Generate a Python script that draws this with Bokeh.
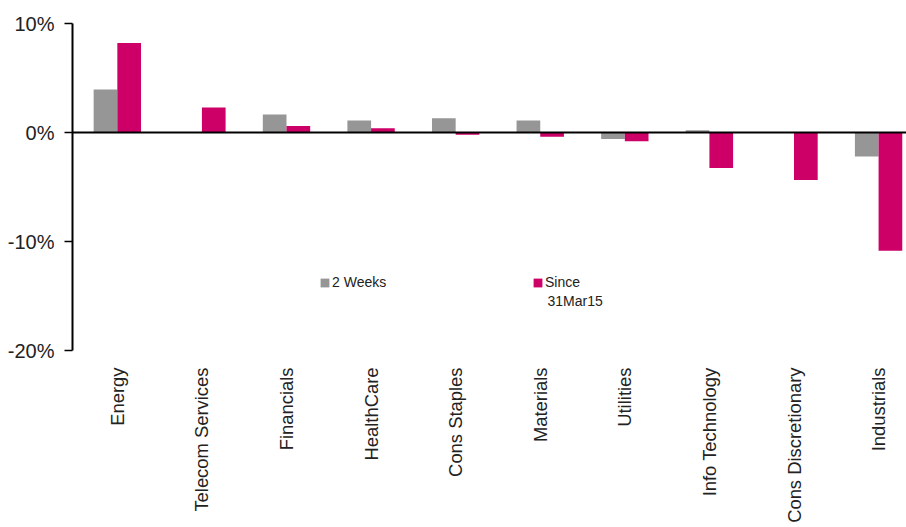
import numpy as np
from bokeh.plotting import figure
from bokeh.models import (ColumnDataSource, FixedTicker, Span, Legend, LegendItem, Label)
from bokeh.embed import file_html
from bokeh.resources import INLINE

categories = ["Energy", "Telecom Services", "Financials", "HealthCare", "Cons Staples",
              "Materials", "Utilities", "Info Technology", "Cons Discretionary", "Industrials"]
two_weeks = [3.95, 0.0, 1.65, 1.1, 1.3, 1.1, -0.6, 0.2, 0.0, -2.2]
since_31mar15 = [8.2, 2.3, 0.6, 0.4, -0.2, -0.4, -0.8, -3.25, -4.35, -10.85]
y_ticks = [-20, -10, 0, 10]
y_tick_labels = ["-20%", "-10%", "0%", "10%"]
series_names = ["2 Weeks", "Since", "31Mar15"]

GRAY = "#969696"
PINK = "#CC0066"
FONT = "Liberation Sans"

idx = np.arange(len(categories))
src = ColumnDataSource(dict(x1=idx - 0.14, x2=idx + 0.14, a=two_weeks, b=since_31mar15))

p = figure(width=906, height=527, output_backend="svg", toolbar_location=None,
           x_range=(-0.53, 9.33), y_range=(-20, 10),
           min_border_left=72, min_border_right=0, min_border_top=23, min_border_bottom=177)
p.outline_line_color = None
p.xgrid.visible = False
p.ygrid.visible = False
p.background_fill_color = "white"
p.border_fill_color = "white"

r1 = p.vbar(x="x1", top="a", bottom=0, width=0.28, source=src, fill_color=GRAY, line_color=None)
r2 = p.vbar(x="x2", top="b", bottom=0, width=0.28, source=src, fill_color=PINK, line_color=None)

p.add_layout(Span(location=0, dimension="width", line_color="black", line_width=2))

# y axis
p.yaxis.ticker = FixedTicker(ticks=y_ticks)
p.yaxis.major_label_overrides = {t: l for t, l in zip(y_ticks, y_tick_labels)}
p.yaxis.axis_line_color = "black"
p.yaxis.axis_line_width = 2
p.yaxis.major_tick_in = 0
p.yaxis.major_tick_out = 8
p.yaxis.major_tick_line_width = 1.5
p.yaxis.minor_tick_line_color = None
p.yaxis.major_label_text_font = FONT
p.yaxis.major_label_text_font_size = "20px"
p.yaxis.major_label_text_color = "#222222"
p.yaxis.major_label_standoff = 10

# x axis
p.xaxis.ticker = FixedTicker(ticks=list(idx))
p.xaxis.major_label_overrides = {int(i): c for i, c in zip(idx, categories)}
p.xaxis.major_label_orientation = np.pi / 2
p.xaxis.axis_line_color = None
p.xaxis.major_tick_line_color = None
p.xaxis.minor_tick_line_color = None
p.xaxis.major_label_text_font = FONT
p.xaxis.major_label_text_font_size = "18.4px"
p.xaxis.major_label_text_color = "#222222"
p.xaxis.major_label_standoff = 11

legend = Legend(items=[LegendItem(label=series_names[0], renderers=[r1]),
                       LegendItem(label=series_names[1], renderers=[r2])],
                orientation="horizontal", location=(247, 60),
                padding=0, margin=0, spacing=0, label_standoff=2,
                glyph_width=11, glyph_height=11, label_width=200,
                border_line_color=None, background_fill_alpha=0,
                label_text_font=FONT, label_text_font_size="14px",
                label_text_color="#222222", label_height=14)
p.add_layout(legend)

p.add_layout(Label(x=475, y=50, x_units="screen", y_units="screen", text=series_names[2],
                   text_font=FONT, text_font_size="14px", text_color="#222222",
                   text_baseline="middle", text_align="left"))

open("out.html", "w").write(file_html(p, INLINE))
